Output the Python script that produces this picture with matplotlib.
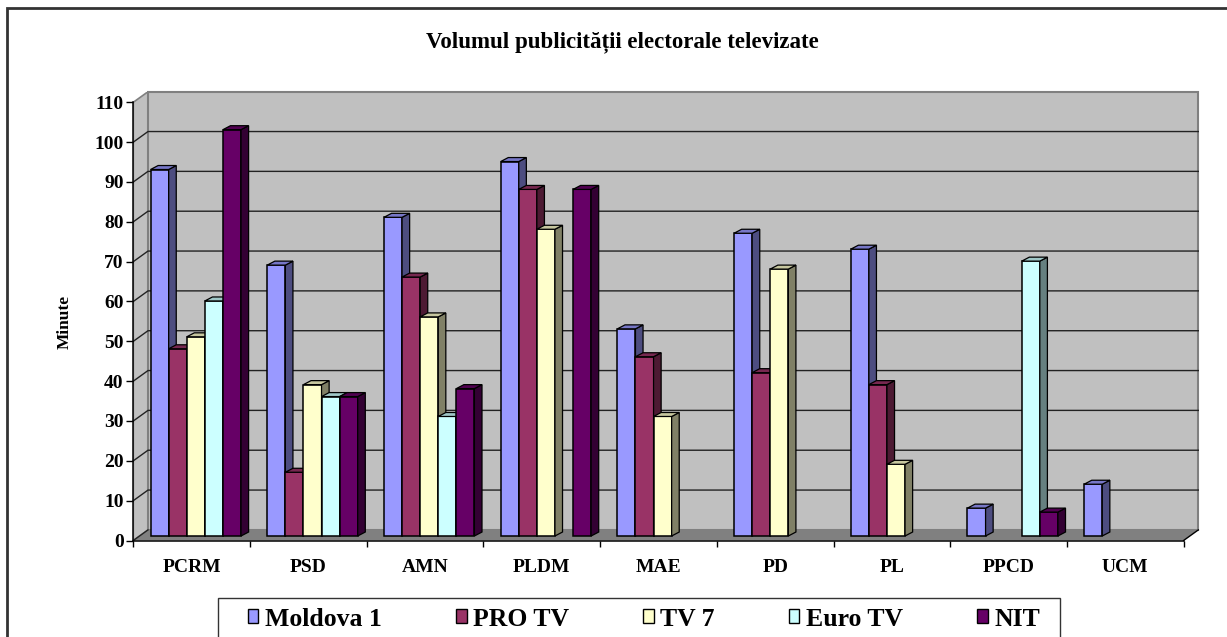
"""
Volumul publicitatii electorale televizate - Excel-style 3D column chart.
Output: out.png
"""

import matplotlib
matplotlib.use('Agg')
import matplotlib.pyplot as plt
from matplotlib.patches import Polygon, Rectangle, Patch
from matplotlib.colors import to_rgb

plt.rcParams['font.family'] = ['Liberation Serif', 'DejaVu Serif']
plt.rcParams['font.weight'] = 'bold'

# ── data ──────────────────────────────────────────────────────────────────────
parties  = ['PCRM', 'PSD', 'AMN', 'PLDM', 'MAE', 'PD', 'PL', 'PPCD', 'UCM']
channels = ['Moldova 1', 'PRO TV', 'TV 7', 'Euro TV', 'NIT']
moldova1 = [92, 68, 80, 94, 52, 76, 72, 7, 13]
pro_tv   = [47, 16, 65, 87, 45, 41, 38, None, None]
tv7      = [50, 38, 55, 77, 30, 67, 18, None, None]
euro_tv  = [59, 35, 30, None, None, None, None, 69, None]
nit      = [102, 35, 37, 87, None, None, None, 6, None]
yticks   = list(range(0, 111, 10))

series = [moldova1, pro_tv, tv7, euro_tv, nit]
COLORS = ['#9999FF', '#993366', '#FFFFCC', '#CCFFFF', '#660066']

def shade(c, f):
    r, g, b = to_rgb(c)
    return (r * f, g * f, b * f)

# ── geometry (pixels of the 1227x637 canvas) ─────────────────────────────────
W, H = 1227, 637
X0, Y0 = 133.3, 540.5          # axis origin
CAT_PX = 116.7                 # one category
Y_PX = (540.5 - 102.3) / 110   # px per minute
WALL_DX, WALL_DY = 14.7 / CAT_PX, 10.6 / Y_PX
BAR_DX, BAR_DY = 0.065, 1.0
BAR_W, GROUP_OFF, BASE = 0.155, 0.148, 1.13
XMAX = 9 + WALL_DX
TOP = 110

fig = plt.figure(figsize=(W / 100, H / 100), dpi=100)
ax = fig.add_axes([X0 / W, 1 - Y0 / H, (1203 - X0) / W, (Y0 - 91.7) / H])
ax.set_xlim(0, (1203 - X0) / CAT_PX)
ax.set_ylim(0, (Y0 - 91.7) / Y_PX)
ax.set_facecolor('none')

WALL = '#C0C0C0'
EDGE = '#808080'

# side wall, back wall, floor
ax.add_patch(Polygon([(0, 0), (0, TOP), (WALL_DX, TOP + WALL_DY), (WALL_DX, WALL_DY)],
                     facecolor=WALL, edgecolor=EDGE, lw=1.2, zorder=0))
ax.add_patch(Rectangle((WALL_DX, WALL_DY), XMAX - WALL_DX, TOP,
                       facecolor=WALL, edgecolor=EDGE, lw=1.5, zorder=0, clip_on=False))
ax.add_patch(Polygon([(0, 0), (9, 0), (XMAX, WALL_DY), (WALL_DX, WALL_DY)],
                     facecolor='#808080', edgecolor='none', zorder=1))
ax.plot([9, XMAX], [0, WALL_DY], color='black', lw=1, zorder=1.2, clip_on=False)
ax.plot([0, WALL_DX], [0, WALL_DY], color='#222222', lw=1, zorder=1.2)

# gridlines on the walls
for v in yticks[1:-1]:
    ax.plot([0, WALL_DX, XMAX], [v, v + WALL_DY, v + WALL_DY],
            color='#222222', lw=1, zorder=0.5, clip_on=False)

# bars with fake depth
for i, vals in enumerate(series):
    xs = [c + GROUP_OFF + i * BAR_W for c in range(len(parties))]
    keep = [(x, v) for x, v in zip(xs, vals) if v]
    bx = [k[0] for k in keep]
    bv = [k[1] for k in keep]
    z = 3 + i
    ax.bar(bx, bv, width=BAR_W, bottom=BASE, align='edge', color=COLORS[i],
           edgecolor='black', lw=1.1, zorder=z)
    for x, v in keep:
        x1, top = x + BAR_W, BASE + v
        ax.add_patch(Polygon([(x1, BASE), (x1 + BAR_DX, BASE + BAR_DY),
                              (x1 + BAR_DX, top + BAR_DY), (x1, top)],
                             facecolor=shade(COLORS[i], 0.5), edgecolor='black',
                             lw=0.9, zorder=z + 0.5))
        ax.add_patch(Polygon([(x, top), (x1, top), (x1 + BAR_DX, top + BAR_DY),
                              (x + BAR_DX, top + BAR_DY)],
                             facecolor=shade(COLORS[i], 0.78), edgecolor='black',
                             lw=0.9, zorder=z + 0.5))

# axes
for s in ('top', 'right'):
    ax.spines[s].set_visible(False)
ax.spines['left'].set_bounds(0, TOP)
ax.spines['bottom'].set_bounds(0, 9)
for s in ('left', 'bottom'):
    ax.spines[s].set_zorder(2)
    ax.spines[s].set_linewidth(1.1)

ax.set_yticks(yticks)
ax.set_yticklabels([str(v) for v in yticks])
ax.set_xticks(range(10))
ax.set_xticklabels([])
ax.set_xticks([c + 0.5 for c in range(len(parties))], minor=True)
ax.set_xticklabels(parties, minor=True)
ax.tick_params(axis='y', direction='out', length=5, width=1, pad=2, labelsize=14)
ax.tick_params(axis='x', which='major', direction='out', length=4, width=1)
ax.tick_params(axis='x', which='minor', length=0, pad=13, labelsize=14)

fig.text(65 / W, 1 - 322 / H, 'Minute', rotation=90, ha='center', va='center',
         fontsize=12.5, fontweight='bold')
fig.text(622 / W, 1 - 42 / H, 'Volumul publicității electorale televizate',
         ha='center', va='center', fontsize=16.5, fontweight='bold')

# outer frame and legend frame (run past the canvas edge, as in the source)
fig.patches.append(Rectangle((7 / W, -0.1), 1.2, (1 - 7.5 / H) + 0.1,
                             transform=fig.transFigure, fill=False,
                             edgecolor='#333333', lw=2))
fig.patches.append(Rectangle((218 / W, -0.1), (1060 - 218) / W, (1 - 598 / H) + 0.1,
                             transform=fig.transFigure, fill=False,
                             edgecolor='#333333', lw=1))

handles = [Patch(facecolor=c, edgecolor='black', lw=1) for c in COLORS]
fig.legend(handles, channels, loc='center', bbox_to_anchor=(644 / W, 1 - 619 / H),
           ncol=5, frameon=False, handlelength=0.4, handleheight=0.45,
           handletextpad=0.25, columnspacing=2.9, borderpad=0,
           prop={'weight': 'bold', 'size': 18.5})

fig.savefig('out.png', dpi=100)
